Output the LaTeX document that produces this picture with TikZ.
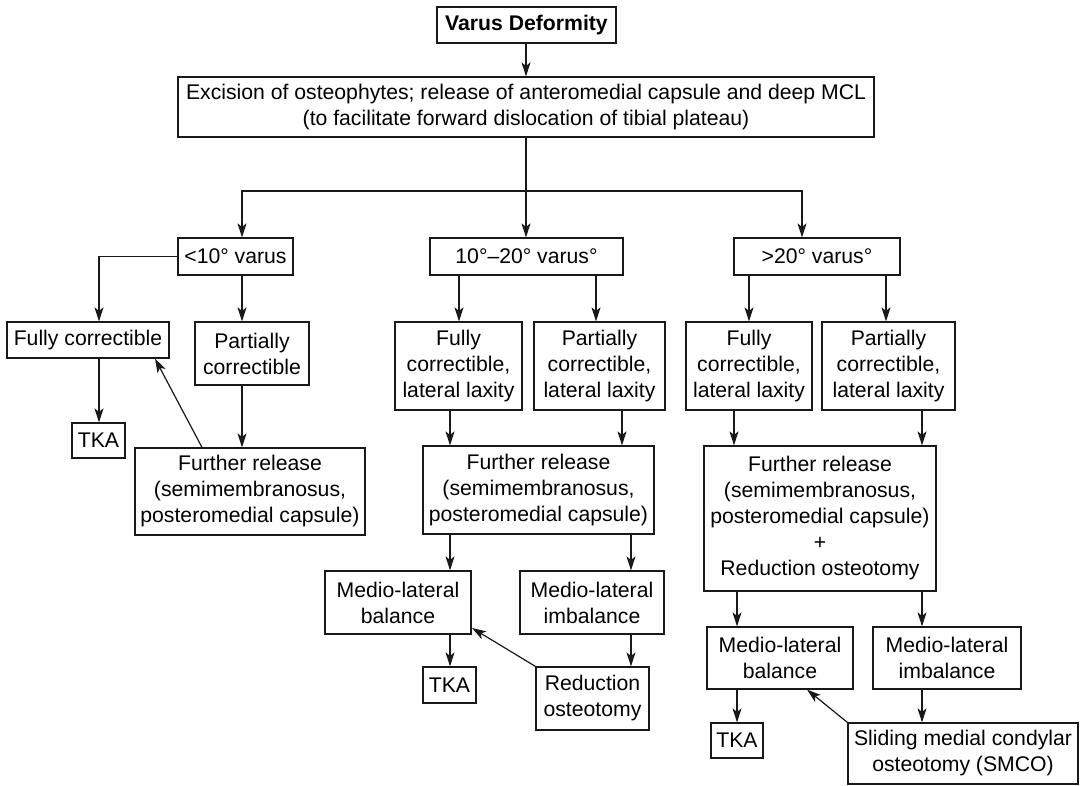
\documentclass[tikz,border=0pt]{standalone}
\usepackage{fontspec}
\setmainfont{Liberation Sans}
\usetikzlibrary{arrows.meta}
\begin{document}
\begin{tikzpicture}[x=1pt,y=-1pt,
  box/.style={draw=black!90, line width=1.2pt, inner sep=0pt, align=center, font=\fontsize{21.2}{26}\selectfont},
  arr/.style={draw=black!90, line width=1.2pt, -{Stealth[length=14pt,width=9pt,inset=3.5pt]}},
  ln/.style={draw=black!90, line width=1.2pt}]
\useasboundingbox[fill=white] (0,0) rectangle (1081,786);

% nodes
\node[box,minimum width=179pt,minimum height=36pt,font=\bfseries\fontsize{21.2}{26}\selectfont] (varus) at (526.5,25) {Varus Deformity};
\node[box,minimum width=696pt,minimum height=60pt] (exc) at (526,107) {Excision of osteophytes; release of anteromedial capsule and deep MCL\\(to facilitate forward dislocation of tibial plateau)};
\node[box,minimum width=115pt,minimum height=37pt] (lt10) at (235.5,256.5) {<10° varus};
\node[box,minimum width=193pt,minimum height=37pt] (m1020) at (526.5,256.5) {10°–20° varus°};
\node[box,minimum width=166pt,minimum height=37pt] (gt20) at (817,256.5) {>20° varus°};

\node[box,minimum width=162pt,minimum height=36pt] (fc1) at (88,340) {Fully correctible};
\node[box,minimum width=114pt,minimum height=63pt] (pc1) at (252,353.5) {Partially\\correctible};
\node[box,minimum width=53pt,minimum height=35pt] (tka1) at (98.5,440.5) {TKA};
\node[box,minimum width=230pt,minimum height=87pt] (fr1) at (250,491.5) {Further release\\(semimembranosus,\\posteromedial capsule)};

\node[box,minimum width=127pt,minimum height=88pt] (fc2) at (458.5,366) {Fully\\correctible,\\lateral laxity};
\node[box,minimum width=131pt,minimum height=88pt] (pc2) at (599.5,366) {Partially\\correctible,\\lateral laxity};
\node[box,minimum width=231pt,minimum height=88pt] (fr2) at (538.5,490) {Further release\\(semimembranosus,\\posteromedial capsule)};
\node[box,minimum width=146pt,minimum height=63pt] (bal2) at (398,602.5) {Medio-lateral\\balance};
\node[box,minimum width=144pt,minimum height=63pt] (imb2) at (592,602.5) {Medio-lateral\\imbalance};
\node[box,minimum width=53pt,minimum height=36pt] (tka2) at (449.5,685) {TKA};
\node[box,minimum width=113pt,minimum height=63pt] (red2) at (592.5,698.5) {Reduction\\osteotomy};

\node[box,minimum width=126pt,minimum height=88pt] (fc3) at (749,366) {Fully\\correctible,\\lateral laxity};
\node[box,minimum width=133pt,minimum height=88pt] (pc3) at (888.5,366) {Partially\\correctible,\\lateral laxity};
\node[box,minimum width=232pt,minimum height=145pt] (fr3) at (820,518.5) {Further release\\(semimembranosus,\\posteromedial capsule)\\+\\Reduction osteotomy};
\node[box,minimum width=146pt,minimum height=62pt] (bal3) at (780,658) {Medio-lateral\\balance};
\node[box,minimum width=148pt,minimum height=62pt] (imb3) at (947,658) {Medio-lateral\\imbalance};
\node[box,minimum width=52pt,minimum height=35pt] (tka3) at (737,740.5) {TKA};
\node[box,minimum width=230pt,minimum height=61pt] (smco) at (963,753.5) {Sliding medial condylar\\osteotomy (SMCO)};

% helper x positions
\coordinate (X526) at (526,0);
\coordinate (X242) at (242,0);
\coordinate (X802) at (802,0);
\coordinate (X99) at (99,0);
\coordinate (X202) at (202,0);
\coordinate (X155) at (155,0);
\coordinate (X459) at (459,0);
\coordinate (X596) at (596,0);
\coordinate (X450) at (450,0);
\coordinate (X622) at (622,0);
\coordinate (X631) at (631,0);
\coordinate (X749) at (749,0);
\coordinate (X886) at (886,0);
\coordinate (X734) at (734,0);
\coordinate (X922) at (922,0);
\coordinate (X737) at (737,0);
\coordinate (X807) at (807,0);
\coordinate (split) at (526,191);
\coordinate (baltip) at (472,628);

% connectors
\draw[arr] (varus.south -| X526) -- (exc.north -| X526);
\draw[arr] (exc.south -| X526) -- (m1020.north -| X526);
\draw[arr] (split) -| (lt10.north -| X242);
\draw[arr] (split) -| (gt20.north -| X802);

\draw[arr] (lt10.west) -| (fc1.north -| X99);
\draw[arr] (lt10.south -| X242) -- (pc1.north -| X242);
\draw[arr] (fc1.south -| X99) -- (tka1.north -| X99);
\draw[arr] (pc1.south -| X242) -- (fr1.north -| X242);
\draw[arr] (fr1.north -| X202) -- (fc1.south -| X155);

\draw[arr] (m1020.south -| X459) -- (fc2.north -| X459);
\draw[arr] (m1020.south -| X596) -- (pc2.north -| X596);
\draw[arr] (fc2.south -| X450) -- (fr2.north -| X450);
\draw[arr] (pc2.south -| X622) -- (fr2.north -| X622);
\draw[arr] (fr2.south -| X450) -- (bal2.north -| X450);
\draw[arr] (fr2.south -| X631) -- (imb2.north -| X631);
\draw[arr] (bal2.south -| X450) -- (tka2.north -| X450);
\draw[arr] (imb2.south -| X631) -- (red2.north -| X631);
\draw[arr] (red2.north west) -- (baltip);

\draw[arr] (gt20.south -| X749) -- (fc3.north -| X749);
\draw[arr] (gt20.south -| X886) -- (pc3.north -| X886);
\draw[arr] (fc3.south -| X734) -- (fr3.north -| X734);
\draw[arr] (pc3.south -| X922) -- (fr3.north -| X922);
\draw[arr] (fr3.south -| X737) -- (bal3.north -| X737);
\draw[arr] (fr3.south -| X922) -- (imb3.north -| X922);
\draw[arr] (bal3.south -| X737) -- (tka3.north -| X737);
\draw[arr] (imb3.south -| X922) -- (smco.north -| X922);
\draw[arr] (smco.north west) -- (bal3.south -| X807);
\end{tikzpicture}
\end{document}
